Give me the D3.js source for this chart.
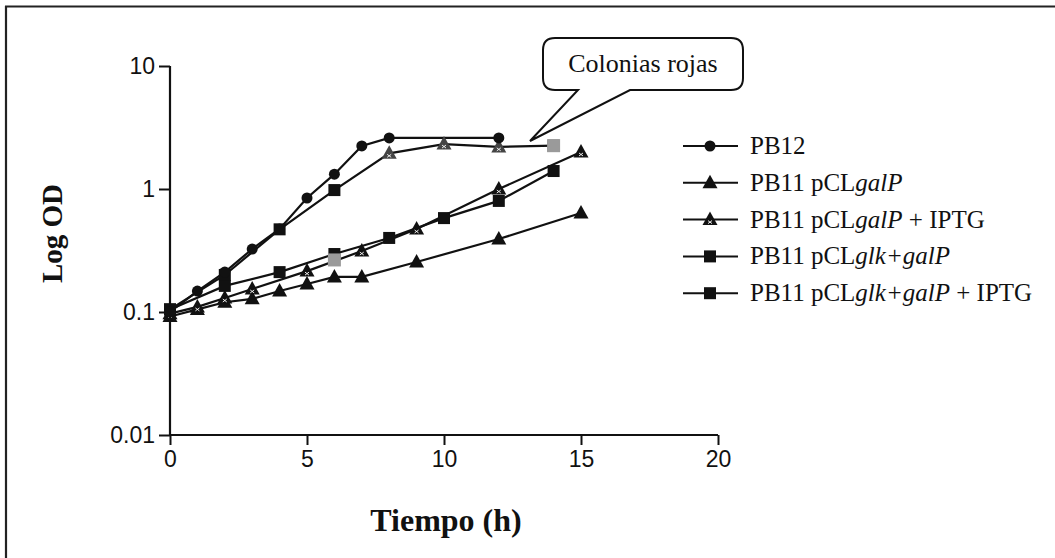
<!DOCTYPE html>
<html><head><meta charset="utf-8">
<script src="https://cdn.jsdelivr.net/npm/d3@7"></script>
<style>body{margin:0;background:#fff}svg{display:block}</style>
</head><body>
<svg id="c" width="1055" height="558"></svg>
<script>
// ---- data ----
const xTicks = [0, 5, 10, 15, 20];
const yTicks = [10, 1, 0.1, 0.01];
const yTickLabels = ["10", "1", "0.1", "0.01"];

const pb12T  = [0, 1, 2, 3, 4, 5, 6, 7, 8, 12];
const pb12OD = [0.1, 0.148, 0.211, 0.325, 0.473, 0.845, 1.32, 2.24, 2.6, 2.6];

const galPT  = [0, 1, 2, 3, 4, 5, 6, 7, 9, 12, 15];
const galPOD = [0.092, 0.105, 0.12, 0.128, 0.148, 0.169, 0.193, 0.193, 0.255, 0.392, 0.638];

const galPIptgT  = [0, 1, 2, 3, 5, 7, 9, 12, 15];
const galPIptgOD = [0.097, 0.11, 0.13, 0.154, 0.215, 0.313, 0.473, 1.0, 2.0];

const glkGalPT  = [0, 2, 4, 6, 8, 10, 12, 14];
const glkGalPOD = [0.105, 0.163, 0.211, 0.296, 0.40, 0.58, 0.80, 1.40];

const glkGalPIptgT  = [0, 2, 4, 6, 8, 10, 12, 14];
const glkGalPIptgOD = [0.105, 0.2, 0.47, 0.98, 1.95, 2.32, 2.2, 2.25];
// points whose marker appears blurred/hatched in the original
const glkGalPIptgHatched = [8, 10, 12];

// grey (red-colony) marks
const redT  = [6, 14];
const redOD = [0.265, 2.25];

const seriesNames = ["PB12", "PB11 pCL|galP", "PB11 pCL|galP| + IPTG", "PB11 pCL|glk+galP", "PB11 pCL|glk+galP| + IPTG"];
const calloutText = "Colonias rojas";

// ---- chart ----
const svg = d3.select("#c");
const x = d3.scaleLinear().domain([0, 20]).range([170, 718]);
const y = d3.scaleLog().domain([0.01, 10]).range([435, 66]);

// frame
svg.append("line").attr("x1", 5).attr("x2", 1055).attr("y1", 6.5).attr("y2", 6.5).attr("stroke", "#222").attr("stroke-width", 2.2);
svg.append("line").attr("x1", 6).attr("x2", 6).attr("y1", 6).attr("y2", 558).attr("stroke", "#222").attr("stroke-width", 2.2);

// axes
const sansFont = "'Liberation Sans', Arial, sans-serif";
const xAxis = svg.append("g").attr("transform", "translate(0,435)")
  .call(d3.axisBottom(x).tickValues(xTicks).tickSize(10).tickPadding(6).tickFormat(d3.format("d")));
const yAxis = svg.append("g").attr("transform", "translate(170,0)")
  .call(d3.axisLeft(y).tickValues(yTicks).tickSize(11).tickPadding(4).tickFormat((d, i) => yTickLabels[i]));
[xAxis, yAxis].forEach(g => {
  g.attr("font-size", 23);
  g.select(".domain").attr("stroke", "#111").attr("stroke-width", 2.2);
  g.selectAll(".tick line").attr("stroke", "#111").attr("stroke-width", 2);
  g.selectAll(".tick text").attr("font-family", sansFont).attr("font-size", 23).attr("fill", "#111");
});
xAxis.select(".domain").attr("d", `M${x(0)},0H${x(20)}`);
yAxis.select(".domain").attr("d", `M0,${y(10)}V${y(0.01)}`);

// titles
const serif = "'Liberation Serif', 'Times New Roman', serif";
svg.append("text").attr("transform", `translate(62,${(y(10)+y(0.01))/2 - 17}) rotate(-90)`)
  .attr("text-anchor", "middle").attr("font-family", serif).attr("font-weight", "bold")
  .attr("font-size", 29).attr("fill", "#111").text("Log OD");
svg.append("text").attr("x", 446).attr("y", 531)
  .attr("text-anchor", "middle").attr("font-family", serif).attr("font-weight", "bold")
  .attr("font-size", 32).attr("fill", "#111").text("Tiempo (h)");

// markers
function drawMarker(g, kind, cx, cy, fill) {
  fill = fill || "#111";
  if (kind === "circle") {
    g.append("circle").attr("cx", cx).attr("cy", cy).attr("r", 5.5).attr("fill", fill);
  } else if (kind === "square") {
    g.append("rect").attr("x", cx - 6).attr("y", cy - 6).attr("width", 12).attr("height", 12).attr("fill", fill);
  } else if (kind === "triangle") {
    g.append("path").attr("d", `M${cx},${cy-8}L${cx+7.5},${cy+5.5}L${cx-7.5},${cy+5.5}Z`).attr("fill", fill);
  } else if (kind === "hatched") {
    g.append("path").attr("d", `M${cx},${cy-8}L${cx+7.5},${cy+5.5}L${cx-7.5},${cy+5.5}Z`).attr("fill", fill);
    g.append("path").attr("d", `M${cx-2},${cy+1}L${cx+2},${cy+4}M${cx+2},${cy+1}L${cx-2},${cy+4}`)
      .attr("stroke", "#fff").attr("stroke-width", 0.9);
  }
}

const series = [
  {t: galPT, v: galPOD, kind: "triangle"},
  {t: galPIptgT, v: galPIptgOD, kind: "hatched"},
  {t: glkGalPT, v: glkGalPOD, kind: "square"},
  {t: glkGalPIptgT, v: glkGalPIptgOD, kind: "square", hatched: glkGalPIptgHatched},
  {t: pb12T, v: pb12OD, kind: "circle"}
];
const line = d3.line().x(d => x(d[0])).y(d => y(d[1]));
const plot = svg.append("g");
series.forEach(s => {
  const pts = s.t.map((t, i) => [t, s.v[i]]);
  plot.append("path").attr("d", line(pts)).attr("fill", "none").attr("stroke", "#111").attr("stroke-width", 2.2);
});
series.forEach(s => {
  s.t.forEach((t, i) => {
    const k = (s.hatched && s.hatched.includes(t)) ? "hatched" : s.kind;
    drawMarker(plot, k, x(t), y(s.v[i]), k === "hatched" && s.hatched ? "#444" : null);
  });
});
redT.forEach((t, i) => {
  plot.append("rect").attr("x", x(t) - 6.5).attr("y", y(redOD[i]) - 6.5).attr("width", 13).attr("height", 13).attr("fill", "#9a9a9a");
});

// callout
const bx0 = 543, bx1 = 743, by0 = 38, by1 = 90, r = 12;
const tip = [530, 141];
svg.append("path").attr("d",
  `M${bx0+r},${by0}H${bx1-r}Q${bx1},${by0} ${bx1},${by0+r}V${by1-r}Q${bx1},${by1} ${bx1-r},${by1}` +
  `H630L${tip[0]},${tip[1]}L578,${by1}H${bx0+r}Q${bx0},${by1} ${bx0},${by1-r}V${by0+r}Q${bx0},${by0} ${bx0+r},${by0}Z`)
  .attr("fill", "#fff").attr("stroke", "#111").attr("stroke-width", 2);
svg.append("text").attr("x", (bx0+bx1)/2).attr("y", 72).attr("text-anchor", "middle")
  .attr("font-family", serif).attr("font-size", 26).attr("fill", "#111").text(calloutText);

// legend
const legKinds = ["circle", "triangle", "hatched", "square", "square"];
const leg = svg.append("g");
seriesNames.forEach((name, i) => {
  const yy = 146 + i * 36.8;
  leg.append("line").attr("x1", 683).attr("x2", 738).attr("y1", yy).attr("y2", yy).attr("stroke", "#111").attr("stroke-width", 2);
  drawMarker(leg, legKinds[i], 710, yy);
  const txt = leg.append("text").attr("x", 750).attr("y", yy + 8).attr("font-family", serif).attr("font-size", 25).attr("fill", "#111");
  name.split("|").forEach((part, j) => {
    txt.append("tspan").attr("font-style", j % 2 === 1 ? "italic" : "normal").text(part);
  });
});
</script>
</body></html>
